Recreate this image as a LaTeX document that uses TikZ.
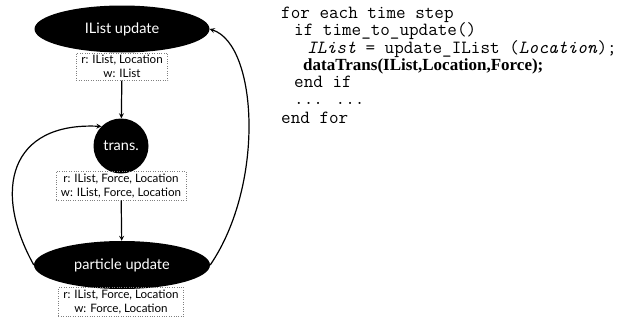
\documentclass[tikz,border=0pt]{standalone}
\usepackage{fontspec}
\usepackage{tikz}
\usetikzlibrary{shapes.geometric}
\setmainfont{Liberation Serif}
\newfontfamily\gillfont{Lato}

\begin{document}
\begin{tikzpicture}[
  x = 1pt, y = -1pt,
  blob/.style = {fill = black, text = white, font = \gillfont\fontsize{14.5}{16}\selectfont, inner sep = 0pt},
  rwbox/.style = {draw = gray, dotted, align = center, inner xsep = 5pt, inner ysep = 2.5pt,
                  font = \gillfont\fontsize{11.6}{14}\selectfont},
  flow/.style = {-stealth, line width = 1.2pt},
  code/.style = {anchor = base west, inner sep = 0pt, font = \ttfamily\fontsize{18.6}{20}\selectfont}
]

\useasboundingbox (0,0) rectangle (629,324);

\node [blob, ellipse, minimum width = 175pt, minimum height = 47pt] (ilist) at (122,29) {IList update};
\node [rwbox, anchor = north] (ilistrw) at (ilist.south) {r: IList, Location\\ w: IList};

\node [blob, circle, minimum size = 55pt] (trans) at (121,146) {trans.};
\node [rwbox, anchor = north] (transrw) at (121,171) {r: IList, Force, Location\\ w: IList, Force, Location};

\node [blob, ellipse, minimum width = 176pt, minimum height = 48pt] (part) at (122,265) {particle update};
\node [rwbox, anchor = north] (partrw) at (121,287) {r: IList, Force, Location\\ w: Force, Location};

\draw [flow] (ilistrw) -- (trans);
\draw [flow] (transrw) -- (part);
\draw [flow] (part.west) .. controls (-8,190) and (10,122) .. (trans.north west);
\draw [flow] (part.east) .. controls (265,185) and (258,45) .. (ilist.east);

\node [code] (l1) at (281,18) {for each time step};
\node [code] (l2) at (294,35.5) {if time\_to\_update()};
\node [code] (l3) at (307,53) {\textit{IList} = update\_IList (\textit{Location});};
\node [code, font = \rmfamily\bfseries\fontsize{17}{18}\selectfont] (l4) at (303,70) {dataTrans(IList,Location,Force);};
\node [code] (l5) at (294,87.5) {end if};
\node [code] (l6) at (294,104) {... ...};
\node [code] (l7) at (281,123) {end for};

\end{tikzpicture}
\end{document}
